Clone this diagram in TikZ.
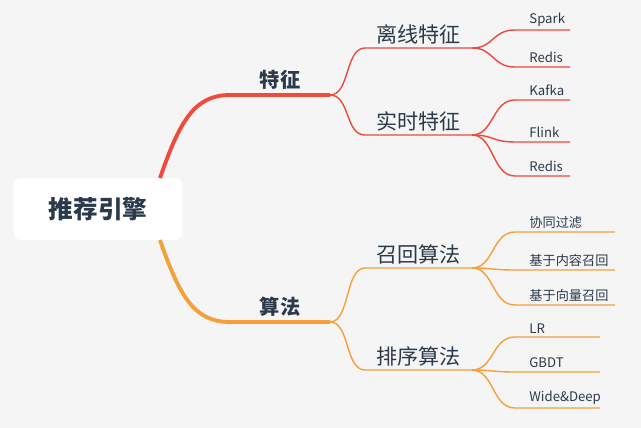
\documentclass[tikz,border=0pt]{standalone}
\usepackage{fontspec}
\setmainfont{Noto Sans CJK SC}
\usetikzlibrary{calc}
\definecolor{bgc}{HTML}{F5F5F5}
\definecolor{redb}{HTML}{F04A3A}
\definecolor{orab}{HTML}{F5A03A}
\definecolor{txt}{HTML}{2B3A4A}
\begin{document}
\begin{tikzpicture}[x=0.02cm,y=-0.02cm,
	root/.style={rectangle, rounded corners=4pt, fill=white, minimum width=3.38cm, minimum height=1.24cm, font=\fontsize{14}{16}\selectfont\bfseries, text=txt},
	main/.style={font=\fontsize{11.5}{13}\selectfont\bfseries, text=txt, above, inner sep=3pt},
	sub/.style={font=\fontsize{12}{14}\selectfont, text=txt, above, inner sep=2pt},
	leaf/.style={font=\fontsize{7.5}{9}\selectfont, text=txt, above right, inner sep=2pt, xshift=6pt},
	rlink/.style={redb, line width=0.8pt},
	olink/.style={orab, line width=0.8pt},
	rmain/.style={redb, line width=2.2pt},
	omain/.style={orab, line width=2.2pt}]
	\fill[bgc] (0,0) rectangle (641,428);
	%root
	\node[root] (root) at (98,209) {推荐引擎};
	%first level
	\coordinate (f0) at (230,95); \coordinate (f1) at (330,95);
	\coordinate (a0) at (230,322); \coordinate (a1) at (330,322);
	\draw[rmain] (160,178) .. controls (180,120) and (195,95) .. (f0) -- (f1);
	\draw[omain] (160,240) .. controls (180,298) and (195,322) .. (a0) -- (a1);
	\node[main] (tz) at ($(f0)!0.5!(f1)$) {特征};
	\node[main] (sf) at ($(a0)!0.5!(a1)$) {算法};
	%second level
	\foreach \n/\y/\t in {lx/48/离线特征, ss/135/实时特征, zh/268/召回算法, px/370/排序算法} {
		\coordinate (\n0) at (365,\y); \coordinate (\n1) at (472,\y);
		\node[sub] (\n) at ($(\n0)!0.5!(\n1)$) {\t};
	}
	\draw[rlink] (f1) .. controls (350,95) and (345,48) .. (lx0) -- (lx1);
	\draw[rlink] (f1) .. controls (350,95) and (345,135) .. (ss0) -- (ss1);
	\draw[olink] (a1) .. controls (350,322) and (345,268) .. (zh0) -- (zh1);
	\draw[olink] (a1) .. controls (350,322) and (345,370) .. (px0) -- (px1);
	%leaves
	\foreach \p/\y/\e/\t/\s in {lx/30/570/Spark/r, lx/67/570/Redis/r,
		ss/100/570/Kafka/r, ss/142/570/Flink/r, ss/176/570/Redis/r,
		zh/232/615/协同过滤/o, zh/270/615/基于内容召回/o, zh/305/615/基于向量召回/o,
		px/337/600/LR/o, px/372/600/GBDT/o, px/408/600/Wide\&Deep/o} {
		\coordinate (l0) at (515,\y); \coordinate (l1) at (\e,\y);
		\draw[\s link] (\p1) .. controls ($(\p1)+(22,0)$) and (492,\y) .. (l0) -- (l1);
		\node[leaf] at (l0) {\t};
	}
\end{tikzpicture}
\end{document}
